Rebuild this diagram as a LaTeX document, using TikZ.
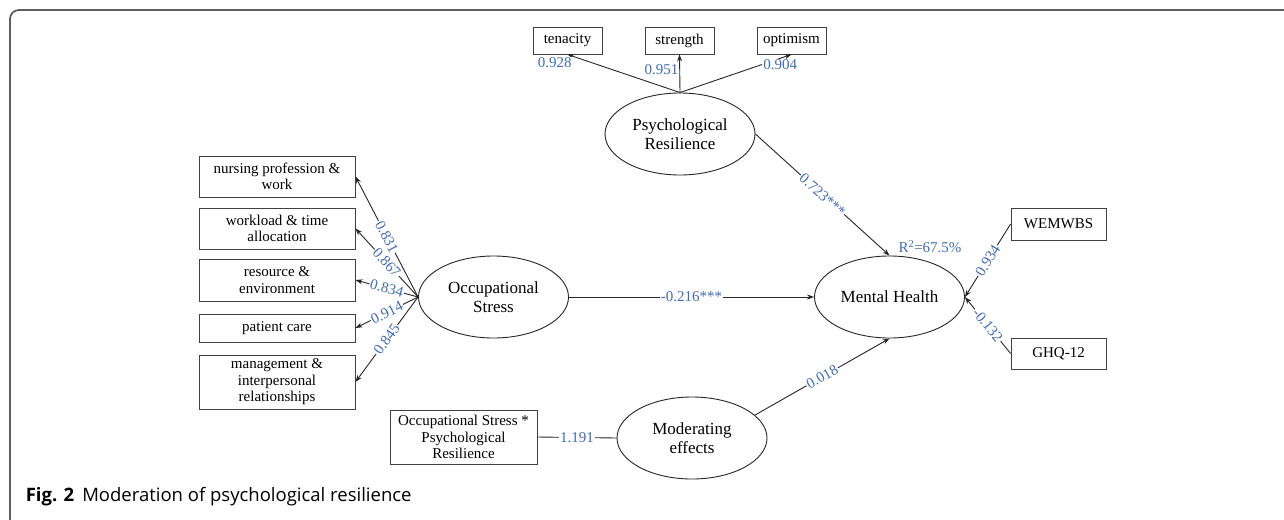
\documentclass[tikz,border=0pt]{standalone}
\usepackage{fontspec}
\setmainfont{Liberation Serif}
\newfontfamily\capfont{Open Sans}
\usetikzlibrary{arrows.meta,shapes.geometric}
\definecolor{coefblue}{RGB}{64,108,186}
\definecolor{framegray}{RGB}{95,95,95}
\tikzset{
  every latent/.style={draw=black!85, line width=0.9pt, ellipse, minimum width=150pt,
    minimum height=82pt, inner sep=0pt, align=center, font=\fontsize{17}{19}\selectfont},
  every indicator/.style={draw=black!75, line width=0.9pt, rectangle, inner sep=0pt,
    align=center, font=\fontsize{15}{16.5}\selectfont},
  coef/.style={text=coefblue, font=\fontsize{15}{16}\selectfont, fill=white, inner sep=1pt},
}

\begin{document}
\begin{tikzpicture}[x=1pt, y=-1pt, >={Stealth[length=7pt,width=5pt]}, line width=0.9pt, draw=black!85]
\useasboundingbox (0,0) rectangle (1284,519);
\draw[framegray, line width=1.8pt, rounded corners=9pt] (10,525) -- (10,10) -- (1295,10);

% latent variables
\node[every latent] (res) at (680,134) {Psychological\\Resilience};
\node[every latent] (stress) at (493.5,297) {Occupational\\Stress};
\node[every latent] (health) at (889.5,297) {Mental Health};
\node[every latent] (moder) at (692,438) {Moderating\\effects};

\foreach \l [count=\i] in {tenacity,strength,optimism}
  \node[every indicator, minimum width=69, minimum height=27] (res-\i) at (455.5+\i*112,40.5) {\l};

\draw[->] (res.north) -- node[coef, pos=0.95, below left] {0.928} (res-1.south);
\draw[->] (res.north) -- node[coef, fill=none, pos=0.6, left] {0.951} (res-2.south);
\draw[->] (res.north) -- node[coef, pos=0.9, below] {0.904} (res-3.south);

\foreach \t/\y/\h [count=\i] in {{nursing profession \&\\ work}/176.5/41,
    {workload \& time\\ allocation}/228.5/41, {resource \&\\ environment}/280/42,
    {patient care}/328/28, {management \&\\ interpersonal\\ relationships}/382/54}
  \node[every indicator, minimum width=156, minimum height=\h] (stress-\i) at (277,\y) {\t};

\foreach \v [count=\i] in {0.831,0.867,0.834,0.914,0.845}
  \draw[->] (stress.west) -- node[coef, sloped] {\v} (stress-\i.east);

\node[every indicator, minimum width=95, minimum height=32] (health-1) at (1058.5,224) {WEMWBS};
\node[every indicator, minimum width=95, minimum height=31] (health-2) at (1058.5,353.5) {GHQ-12};

\foreach \v [count=\i] in {0.934,-0.132}
  \draw[->] (health-\i.west) -- node[coef, sloped] {\v} (health.east);

% interaction term
\node[every indicator, minimum width=147, minimum height=54] (inter) at (463.5,437)
  {Occupational Stress *\\ Psychological\\ Resilience};
\draw (inter.east) -- node[coef] {1.191} (moder.west);

% paths to mental health
\draw[->] (res.east) -- node[coef, sloped] {0.723***} (health.north);
\draw[->] (stress.east) -- node[coef] {-0.216***} (health.west);
\draw[->] (moder.20) -- node[coef, sloped] {0.018} (health.south);
\node[coef, fill=none] (rsq) at (930,247) {R\textsuperscript{2}=67.5\%};

\node[anchor=west, font=\capfont\fontsize{18.5}{20}\selectfont] (caption) at (22,497)
  {\textbf{Fig. 2}\hspace{8pt}Moderation of psychological resilience};
\end{tikzpicture}
\end{document}
